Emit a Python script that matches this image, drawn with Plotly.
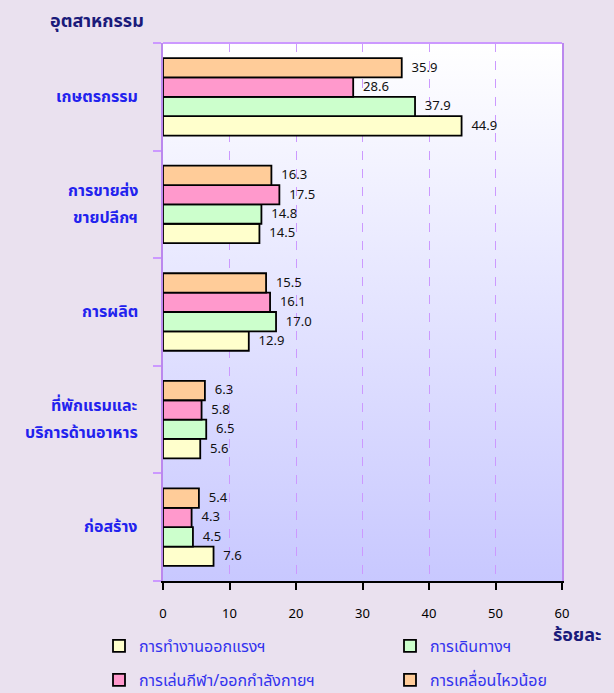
import base64
import plotly.graph_objects as go

categories = ["เกษตรกรรม", "การขายส่ง<br>ขายปลีกฯ", "การผลิต", "ที่พักแรมและ<br>บริการด้านอาหาร", "ก่อสร้าง"]
series_names = ["การทำงานออกแรงฯ", "การเดินทางฯ", "การเล่นกีฬา/ออกกำลังกายฯ", "การเคลื่อนไหวน้อย"]
work = [44.9, 14.5, 12.9, 5.6, 7.6]
travel = [37.9, 14.8, 17.0, 6.5, 4.5]
sport = [28.6, 17.5, 16.1, 5.8, 4.3]
sedentary = [35.9, 16.3, 15.5, 6.3, 5.4]
x_ticks = [0, 10, 20, 30, 40, 50, 60]

values = [work, travel, sport, sedentary]
colors = ["#FFFFCC", "#CCFFCC", "#FF99CC", "#FFCC99"]
legend_ids = ["legend", "legend2", "legend3", "legend4"]

FONT = "Tahoma, 'Noto Sans Thai', 'Noto Sans', sans-serif"

fig = go.Figure()
for name, vals, col, lg in zip(series_names, values, colors, legend_ids):
    fig.add_trace(go.Bar(
        y=categories, x=vals, name=name, orientation="h",
        marker=dict(color=col, line=dict(color="black", width=1.8)),
        text=["\u00a0\u00a0" + f"{v:.1f}" for v in vals], textposition="outside",
        textfont=dict(size=13.5, color="#111111", family=FONT),
        cliponaxis=False, legend=lg,
    ))

svg = ("<svg xmlns='http://www.w3.org/2000/svg' width='10' height='10' viewBox='0 0 10 10' "
       "preserveAspectRatio='none'><defs><linearGradient id='g' x1='0' y1='0' x2='0' y2='1'>"
       "<stop offset='0' stop-color='#ffffff'/><stop offset='1' stop-color='#c8c8ff'/>"
       "</linearGradient></defs><rect width='10' height='10' fill='url(#g)'/></svg>")
img_src = "data:image/svg+xml;base64," + base64.b64encode(svg.encode()).decode()

L, R, T, B = 163, 52, 43, 112
W, H = 614, 693
pw, ph = W - L - R, H - T - B

def px_x(px):
    return (px - L) / pw

def px_y(py):
    return (H - B - py) / ph

legend_common = dict(orientation="v", xanchor="left", yanchor="middle",
                     bgcolor="rgba(0,0,0,0)",
                     font=dict(size=16, color="#3333EE", family=FONT))
legend_pos = [(99, 646), (390, 646), (99, 680), (390, 680)]

layout_legends = {}
for lg, (lx, ly) in zip(legend_ids, legend_pos):
    layout_legends[lg] = dict(x=px_x(lx), y=px_y(ly), **legend_common)

label_font = dict(size=16, color="#2222EE", family=FONT, weight="bold")
annotations = []
for cat in categories:
    lines = cat.split("<br>")
    n = len(lines)
    for i, line in enumerate(lines):
        annotations.append(dict(
            text=line, xref="paper", yref="y", x=px_x(140), y=cat,
            xanchor="right", yanchor="middle", showarrow=False,
            yshift=(n - 1) * 13.5 - i * 27, font=label_font))

annotations += [
    dict(text="อุตสาหกรรม", xref="paper", yref="paper", x=px_x(97), y=px_y(22),
         xanchor="center", yanchor="middle", showarrow=False,
         font=dict(size=18, color="#1A1A7A", family=FONT, weight="bold")),
    dict(text="ร้อยละ", xref="paper", yref="paper", x=px_x(577), y=px_y(635),
         xanchor="center", yanchor="middle", showarrow=False,
         font=dict(size=18, color="#1A1A7A", family=FONT, weight="bold")),
]

fig.update_layout(
    width=W, height=H,
    margin=dict(l=L, r=R, t=T, b=B, autoexpand=False),
    paper_bgcolor="#EAE1EF",
    plot_bgcolor="rgba(0,0,0,0)",
    barmode="group", bargap=0.28, bargroupgap=0,
    font=dict(family=FONT),
    showlegend=True,
    images=[dict(source=img_src, xref="paper", yref="paper", x=0, y=1,
                 sizex=1, sizey=1, xanchor="left", yanchor="top",
                 sizing="stretch", layer="below")],
    xaxis=dict(range=[0, 60], tickvals=x_ticks, showgrid=True,
               gridcolor="#CC99FF", griddash="dash", gridwidth=1,
               showline=True, linecolor="black", linewidth=2,
               ticks="outside", ticklen=7, tickwidth=1.5, tickcolor="black",
               ticklabelstandoff=12,
               tickfont=dict(size=13, color="black", family=FONT),
               zeroline=False, fixedrange=True),
    yaxis=dict(categoryorder="array", categoryarray=categories[::-1],
               showline=True, linecolor="#BB88EE", linewidth=2, mirror=True,
               ticks="outside", tickson="boundaries", ticklen=8, tickwidth=2,
               tickcolor="#CC99FF", showticklabels=False,
               showgrid=False, zeroline=False),
    shapes=[dict(type="line", xref="paper", yref="paper", x0=0, x1=1, y0=1, y1=1,
                 line=dict(color="#CC99FF", width=2))],
    annotations=annotations,
    **layout_legends,
)

fig.write_html("out.html", config={"displayModeBar": False},
               post_script="document.body.style.margin='0';document.body.style.overflow='hidden';")
